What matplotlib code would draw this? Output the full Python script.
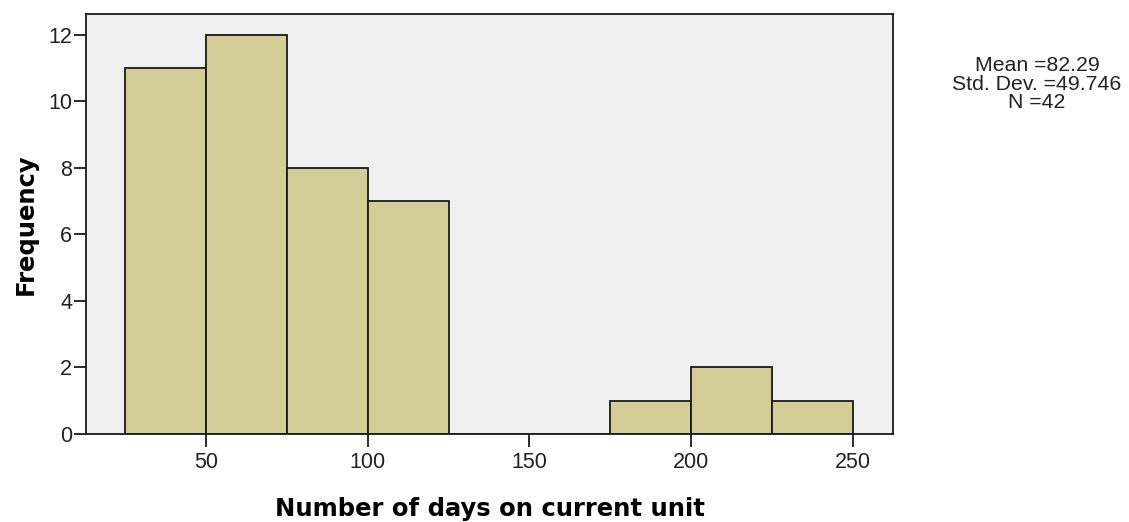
import matplotlib.pyplot as plt
import numpy as np

# Histogram bins (days) and frequencies
bin_edges = [25, 50, 75, 100, 125, 150, 175, 200, 225, 250]
counts = [11, 12, 8, 7, 0, 0, 1, 2, 1]
x_ticks = [50, 100, 150, 200, 250]
y_ticks = [0, 2, 4, 6, 8, 10, 12]
stats_text = "Mean =82.29\nStd. Dev. =49.746\nN =42"

plt.rcParams['font.family'] = ['Liberation Sans', 'DejaVu Sans']

fig = plt.figure(figsize=(11.29, 5.22), dpi=100)
ax = fig.add_axes([0.0762, 0.1686, 0.7148, 0.8046])
ax.set_facecolor('#f0f0f0')

lefts = np.array(bin_edges[:-1])
widths = np.diff(bin_edges)
ax.bar(lefts, counts, width=widths, align='edge', color='#d3ce97',
       edgecolor='#1a1a1a', linewidth=1.3, zorder=2)

ax.set_xlim(12.9, 262.4)
ax.set_ylim(0, 12.63)
ax.set_xticks(x_ticks)
ax.set_yticks(y_ticks)
ax.tick_params(direction='out', length=9, width=1.3, labelsize=15.5,
               color='#1a1a1a', labelcolor='#222222')
ax.tick_params(axis='x', pad=4)
ax.tick_params(axis='y', pad=1)
for s in ax.spines.values():
    s.set_linewidth(1.3)
    s.set_color('#1a1a1a')

lab_font = dict(family='DejaVu Sans', fontsize=17.5, fontweight='bold')
ax.set_xlabel('Number of days on current unit', labelpad=17, **lab_font)
ax.set_ylabel('Frequency', labelpad=7.5, **lab_font)

fig.text(1037 / 1129, 1 - 56 / 522, stats_text, ha='center', va='top',
         fontsize=15.3, linespacing=0.97, color='#222222')

fig.savefig('out.png', dpi=100)
